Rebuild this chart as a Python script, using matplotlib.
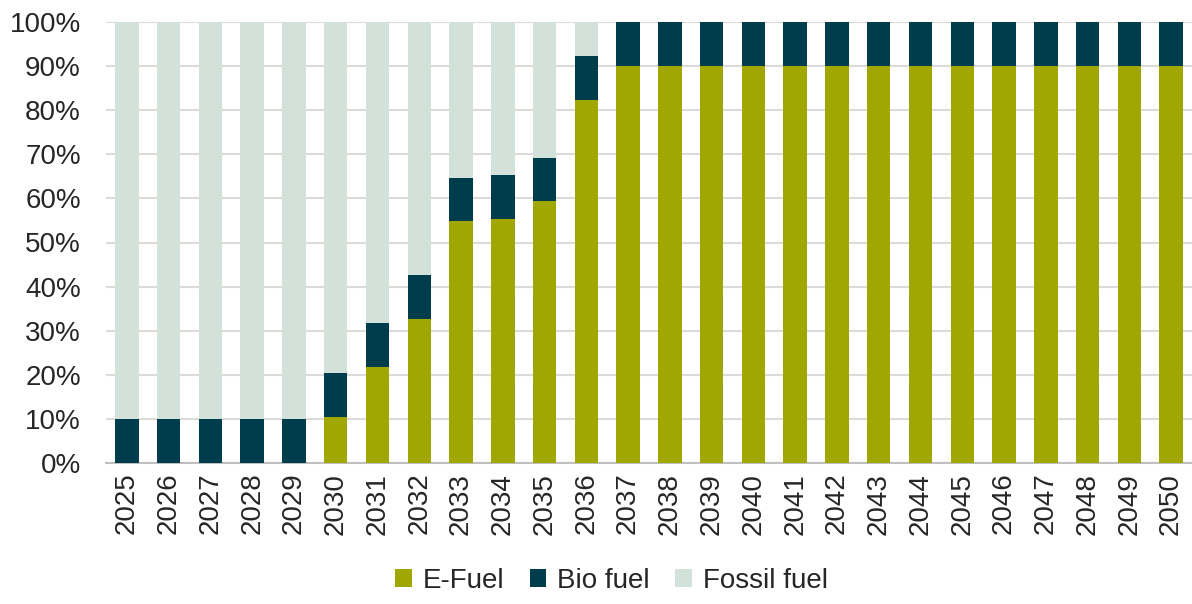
import matplotlib.pyplot as plt
import numpy as np

plt.rcParams['font.family'] = ['Liberation Sans', 'DejaVu Sans']

years = [str(y) for y in range(2025, 2051)]
e_fuel = [0, 0, 0, 0, 0, 10.4, 21.8, 32.7, 54.8, 55.3, 59.3, 82.3] + [90] * 14
bio_fuel = [10, 10, 10, 10, 10, 9.9, 9.9, 9.9, 9.8, 9.9, 9.9, 10.0] + [10] * 14
fossil_fuel = [100 - e - b for e, b in zip(e_fuel, bio_fuel)]

c_efuel = '#9FA700'
c_bio = '#003D4C'
c_fossil = '#D2E1D9'

fig = plt.figure(figsize=(11.92, 6.04), dpi=100)
ax = fig.add_axes([106 / 1192, 1 - 463 / 604, (1192 - 106) / 1192, (463 - 22) / 604])

x = np.arange(len(years))
w = 0.56
ax.bar(x, e_fuel, w, color=c_efuel, label='E-Fuel', zorder=3)
ax.bar(x, bio_fuel, w, bottom=e_fuel, color=c_bio, label='Bio fuel', zorder=3)
ax.bar(x, fossil_fuel, w, bottom=np.add(e_fuel, bio_fuel), color=c_fossil,
       label='Fossil fuel', zorder=3)

ax.set_xlim(-0.5, len(years) - 0.5)
ax.set_ylim(0, 100)
ax.set_yticks(range(0, 101, 10))
ax.set_yticklabels([f'{v}%' for v in range(0, 101, 10)], fontsize=20, color='#262626')
ax.set_xticks(x)
ax.set_xticklabels(years, rotation=90, fontsize=20, color='#262626')
ax.tick_params(axis='y', length=0, pad=18)
ax.tick_params(axis='x', length=0, pad=7)
ax.grid(axis='y', color='#DEDAD8', linewidth=1.5, zorder=0)
for s in ['top', 'right', 'left']:
    ax.spines[s].set_visible(False)
ax.spines['bottom'].set_color('#BFBFBF')
ax.spines['bottom'].set_linewidth(1.5)

fig.legend(loc='lower center', bbox_to_anchor=(0.513, -0.025), ncol=3, frameon=False,
           fontsize=20, handlelength=0.6, handleheight=0.6, handletextpad=0.4,
           columnspacing=0.9, labelcolor='#262626')

fig.savefig('out.png', dpi=100)
